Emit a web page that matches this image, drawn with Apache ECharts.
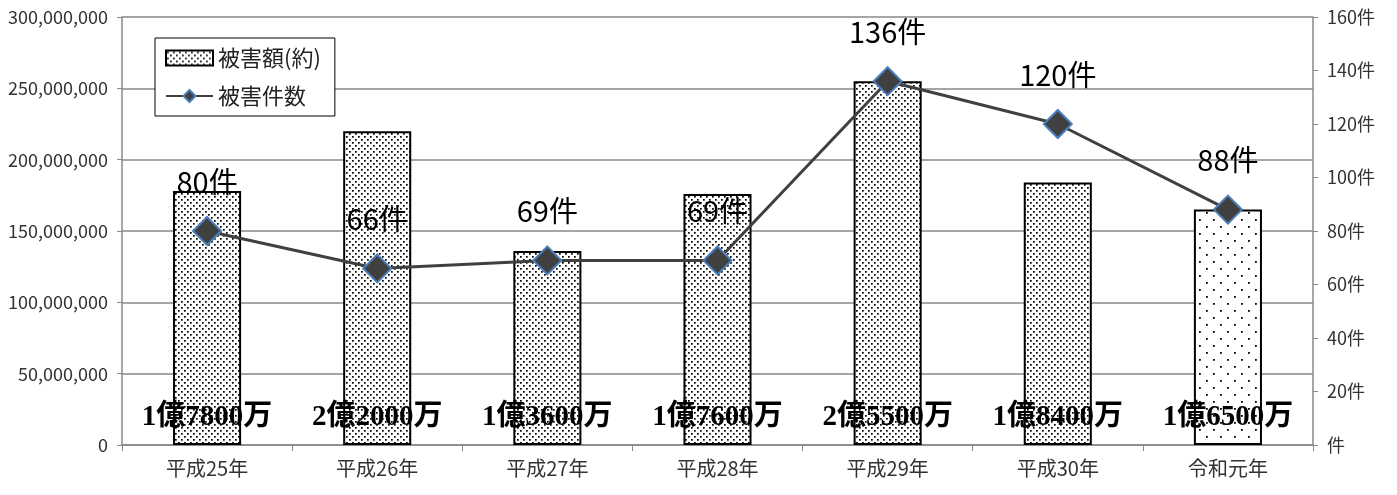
<!DOCTYPE html>
<html><head><meta charset="utf-8">
<script src="https://cdn.jsdelivr.net/npm/echarts@6/dist/echarts.min.js"></script>
<style>html,body{margin:0;padding:0;background:#fff}#c{width:1397px;height:495px}</style>
</head><body><div id="c"></div>
<script>
const categories = ['平成25年','平成26年','平成27年','平成28年','平成29年','平成30年','令和元年'];
const damageAmount = [178000000, 220000000, 136000000, 176000000, 255000000, 184000000, 165000000];
const damageLabels = ['1億7800万','2億2000万','1億3600万','1億7600万','2億5500万','1億8400万','1億6500万'];
const caseCounts = [80, 66, 69, 69, 136, 120, 88];

function makePattern(size, dots, r) {
  const cv = document.createElement('canvas');
  cv.width = size; cv.height = size;
  const ctx = cv.getContext('2d');
  ctx.fillStyle = '#fff'; ctx.fillRect(0,0,size,size);
  ctx.fillStyle = '#000';
  dots.forEach(d => { ctx.fillRect(d[0], d[1], r, r); });
  return cv;
}
const densePat = makePattern(6, [[1,1],[4,4]], 1.7);
const sparsePat = makePattern(14, [[2,2],[9,9]], 1.8);

const chart = echarts.init(document.getElementById('c'));
const jp = "'Noto Sans CJK JP', sans-serif";
chart.setOption({
  animation: false,
  textStyle: { fontFamily: jp },
  grid: { left: 122, right: 84, top: 17, bottom: 50 },
  legend: {
    left: 155, top: 38, orient: 'vertical',
    backgroundColor: '#fff', borderColor: '#000', borderWidth: 1,
    padding: [9, 14, 9, 10], itemGap: 16, itemWidth: 47, itemHeight: 15,
    textStyle: { fontSize: 22, color: '#222', fontFamily: jp },
    data: [
      { name: '被害額(約)', icon: 'rect' },
      { name: '被害件数' }
    ]
  },
  xAxis: {
    type: 'category', data: categories,
    axisLine: { lineStyle: { color: '#888', width: 1.5 } },
    axisTick: { show: true, alignWithLabel: false, length: 6, lineStyle: { color: '#888' } },
    axisLabel: { fontSize: 20, color: '#333', margin: 13 }
  },
  yAxis: [
    {
      type: 'value', min: 0, max: 300000000, interval: 50000000,
      axisLine: { show: true, lineStyle: { color: '#888', width: 1.5 } },
      axisTick: { show: true, length: 5, lineStyle: { color: '#888' } },
      splitLine: { lineStyle: { color: '#888', width: 1.5 } },
      axisLabel: { fontSize: 18, color: '#333', margin: 14,
        formatter: v => v.toLocaleString('en-US') }
    },
    {
      type: 'value', min: 0, max: 160, interval: 20,
      axisLine: { show: true, lineStyle: { color: '#888', width: 1.5 } },
      axisTick: { show: true, length: 5, lineStyle: { color: '#888' } },
      splitLine: { show: false },
      axisLabel: { fontSize: 18, color: '#333', margin: 14,
        formatter: v => v === 0 ? '件' : v + '件' }
    }
  ],
  series: [
    {
      name: '被害額(約)', type: 'bar', yAxisIndex: 0, barWidth: '40%',
      data: damageAmount.map((v, i) => ({
        value: v,
        itemStyle: { color: { image: i === 6 ? sparsePat : densePat, repeat: 'repeat' } }
      })),
      itemStyle: { color: { image: densePat, repeat: 'repeat' }, borderColor: '#000', borderWidth: 2 },
      label: {
        show: true, position: 'insideBottom', distance: 13,
        formatter: p => damageLabels[p.dataIndex],
        fontSize: 29, fontWeight: 'bold', color: '#000',
        fontFamily: "'Liberation Serif', 'Noto Sans CJK JP', serif"
      },
      z: 2
    },
    {
      name: '被害件数', type: 'line', yAxisIndex: 1,
      data: caseCounts,
      symbol: 'diamond', symbolSize: 28,
      lineStyle: { color: '#404040', width: 3 },
      itemStyle: { color: '#404040', borderColor: '#4a7ebb', borderWidth: 2 },
      label: {
        show: true, position: 'top', distance: 20,
        formatter: p => p.value + '件',
        fontSize: 29, color: '#000', fontFamily: jp
      },
      z: 3
    }
  ]
});
</script></body></html>
